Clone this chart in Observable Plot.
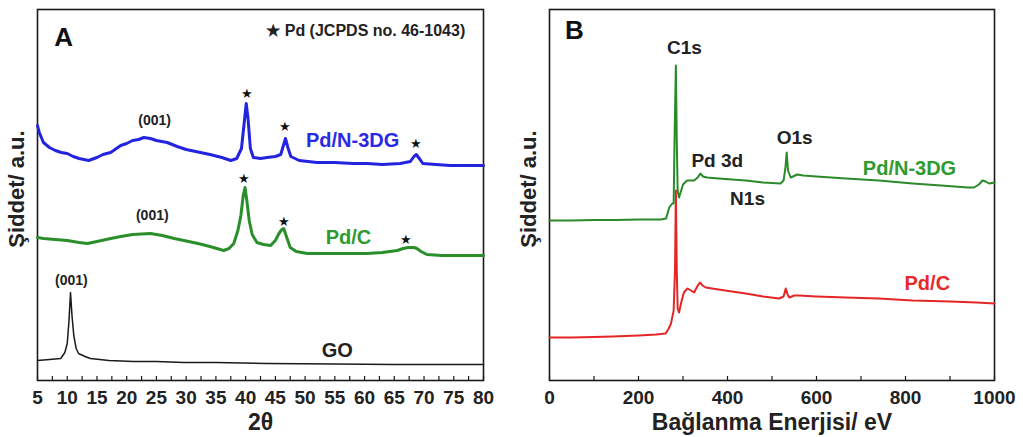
<!DOCTYPE html>
<html>
<head>
<meta charset="utf-8">
<script src="https://cdn.jsdelivr.net/npm/d3@7"></script>
<script src="https://cdn.jsdelivr.net/npm/@observablehq/plot@0.6"></script>
<style>
  body { margin: 0; background: #fff; }
  #wrap { display: flex; width: 1023px; height: 437px; }
</style>
</head>
<body>
<div id="wrap"></div>
<script>
// ---------- Panel A: XRD (2θ in degrees, intensity in arbitrary units) ----------
const xrdTicks = [5,10,15,20,25,30,35,40,45,50,55,60,65,70,75,80];
const xrdMinorTicks = d3.range(5, 80.01, 2.5);

const xrdPdN3DG = [
  [5.0,255],[5.3,248],[6.0,238],[7,233],[8,230],[9,228],[10,227],[11,224],[12,222],[13.6,220],[15,223],[16,226],
  [17.3,228],[19,235],[20,237],[21,240],[22,241],[22.9,243],[24,242],[25,240],[26.8,238],[28.5,234],[30,231],
  [32.4,228],[34,226],[36,223],[37.5,220],[38.5,222],[39.3,232],[39.8,260],[40.1,277],[40.4,262],[40.8,232],
  [41.3,223],[42.5,222],[43.6,223],[45,224],[45.9,226],[46.4,236],[46.7,242],[47.1,233],[47.6,224],[49,220],
  [52,218],[55,218],[58,217],[60.4,217],[63,216],[66,217],[67.7,219],[68.3,224],[68.7,226],[69.2,222],
  [69.8,217],[72,216],[74.4,215],[77,215],[80,215]
];
const xrdPdC = [
  [5.0,143],[6,142],[8,141],[10,140],[12,138],[13.4,137],[15,139],[17.3,142],[19,144],[21,146],[24,147],[26,145],
  [28,142],[29.6,140],[32,137],[34,134],[36.3,130],[37.2,132],[38,137],[38.7,150],[39.2,165],[39.6,185],
  [39.9,193],[40.2,180],[40.6,160],[41.1,146],[41.9,138],[43,136],[44.2,135],[45,140],[45.6,147],[46.1,151],
  [46.4,152],[46.8,145],[47.5,133],[48.5,129],[50.4,127],[53,127],[56,127],[60.4,127],[63,128],[65.5,130],
  [66.5,132],[67.4,133],[68.3,133],[68.8,132],[69.5,129],[70.5,126],[73,125],[76,125],[80,125]
];
const xrdGO = [
  [5.0,20],[7,21],[8.9,22],[9.6,28],[10.0,37],[10.3,60],[10.55,88],[10.8,65],[11.1,45],[11.5,32],[11.9,27],
  [13,24],[13.9,22],[17,20],[21.2,19],[25,19],[29.6,18],[35,18],[43.6,17],[55,16.5],[65,16],[80,16]
];
// Pd reflection markers (★) above peaks: [2θ, height]
const xrdStars = [[40.3,287],[46.7,254],[68.6,237],[39.8,202],[46.4,159],[67.0,141]];
// text annotations: [x, y, text, colour, size]
const xrdLabels = [
  [9.4,343,"A","#111",26],
  [60.2,350,"★ Pd (JCPDS no. 46-1043)","#222",16],
  [24.7,260,"(001)","#222",14],
  [24.3,165,"(001)","#222",14],
  [10.7,100,"(001)","#222",14],
  [58.0,240,"Pd/N-3DG","#2a2ae6",20],
  [57.3,143,"Pd/C","#2f9a2f",20],
  [55.4,30,"GO","#222",20]
];

// ---------- Panel B: XPS survey (binding energy in eV) ----------
const xpsTicks = [0,200,400,600,800,1000];
const xpsMinorTicks = [0,100,200,300,400,500,600,700,800,900,1000];
const xpsPdN3DG = [
  [0,160],[50,160],[100,160.5],[150,160.5],[200,161],[250,161],[262,162],[269,173],[276,177],[279,177],
  [281,240],[284,315],[286,240],[288,190],[291,183],[296,190],[300,196],[309,200],[318,200],[325,200],
  [333,203],[339,207],[345,204],[354,203],[380,202],[410,201],[441,200],[480,198],[519,197],[526,200],
  [530,212],[533,228],[536,210],[542,203],[557,206],[570,205],[600,204],[666,202],[740,200],[816,197],
  [880,195],[940,193],[954,193],[965,196],[973,200],[980,199],[988,197],[1000,198]
];
const xpsPdC = [
  [0,43],[50,43],[100,43.5],[142,44],[200,45],[240,46],[261,47],[268,52],[273,57],[279,70],[282,110],
  [284,190],[286,110],[288,72],[291,68],[296,78],[302,88],[310,92],[318,90],[325,88],[332,94],[338,98],
  [344,95],[351,93],[380,91],[410,89],[441,87],[480,84],[516,82],[526,84],[531,92],[535,86],[539,83],
  [550,85],[560,85],[600,84],[666,83],[740,82],[816,80],[900,79],[960,78],[1000,77]
];
const xpsLabels = [
  [56,350,"B","#111",26],
  [303,333,"C1s","#222",19],
  [377,220,"Pd 3d","#222",19],
  [551,243,"O1s","#222",19],
  [445,182,"N1s","#222",19],
  [809,212,"Pd/N-3DG","#2f9a2f",20],
  [849,97,"Pd/C","#e42a2a",20]
];

const FONT = "'Liberation Sans', Arial, Helvetica, sans-serif";
const H = 437, MT = 9, MB = 57, ML = 37, MR = 29;
const innerH = H - MT - MB;

function panel({width, xDomain, ticks, minor, xLabel, lines, stars, labels}) {
  const marks = [
    Plot.frame({stroke: "#1a1a1a", strokeWidth: 1.6}),
    Plot.tickX(minor, {x: d => d, insetTop: innerH - 4, stroke: "#1a1a1a", strokeWidth: 1.2}),
    Plot.text(ticks, {x: d => d, text: d => String(d), frameAnchor: "bottom", dy: 23, fontSize: 19, fontWeight: "bold", fill: "#222"}),
    ...lines.map(l => Plot.line(l.data, {x: d => d[0], y: d => d[1], stroke: l.color, strokeWidth: l.width, curve: "linear"})),
    Plot.text([xLabel], {frameAnchor: "bottom", text: d => d, textAnchor: "middle", dy: 49, fontSize: 23, fontWeight: "bold", fill: "#222"}),
    Plot.text(["Şiddet/ a.u."], {frameAnchor: "left", text: d => d, textAnchor: "middle", rotate: -90, dx: -21, dy: -6, fontSize: 22, fontWeight: "bold", fill: "#222"}),
    Plot.text(labels, {x: d => d[0], y: d => d[1], text: d => d[2], fill: d => d[3], fontSize: d => d[4], fontWeight: "bold"})
  ];
  if (stars) marks.push(Plot.text(stars, {x: d => d[0], y: d => d[1], text: () => "★", fontSize: 13, fill: "#111"}));
  return Plot.plot({
    width, height: H,
    marginTop: MT, marginBottom: MB, marginLeft: ML, marginRight: MR,
    style: {fontFamily: FONT, background: "#fff", overflow: "visible"},
    x: {domain: xDomain, axis: null},
    y: {domain: [0, innerH], axis: null},
    marks
  });
}

const wrap = document.getElementById("wrap");
wrap.appendChild(panel({
  width: 512, xDomain: [5, 80], ticks: xrdTicks, minor: xrdMinorTicks, xLabel: "2θ",
  lines: [
    {data: xrdGO, color: "#1a1a1a", width: 1.5},
    {data: xrdPdC, color: "#2a8f2a", width: 3},
    {data: xrdPdN3DG, color: "#2424e0", width: 3}
  ],
  stars: xrdStars, labels: xrdLabels
}));
wrap.appendChild(panel({
  width: 511, xDomain: [0, 1000], ticks: xpsTicks, minor: xpsMinorTicks, xLabel: "Bağlanma Enerjisi/ eV",
  lines: [
    {data: xpsPdC, color: "#e42626", width: 2},
    {data: xpsPdN3DG, color: "#2a8a2a", width: 2}
  ],
  stars: null, labels: xpsLabels
}));
</script>
</body>
</html>
